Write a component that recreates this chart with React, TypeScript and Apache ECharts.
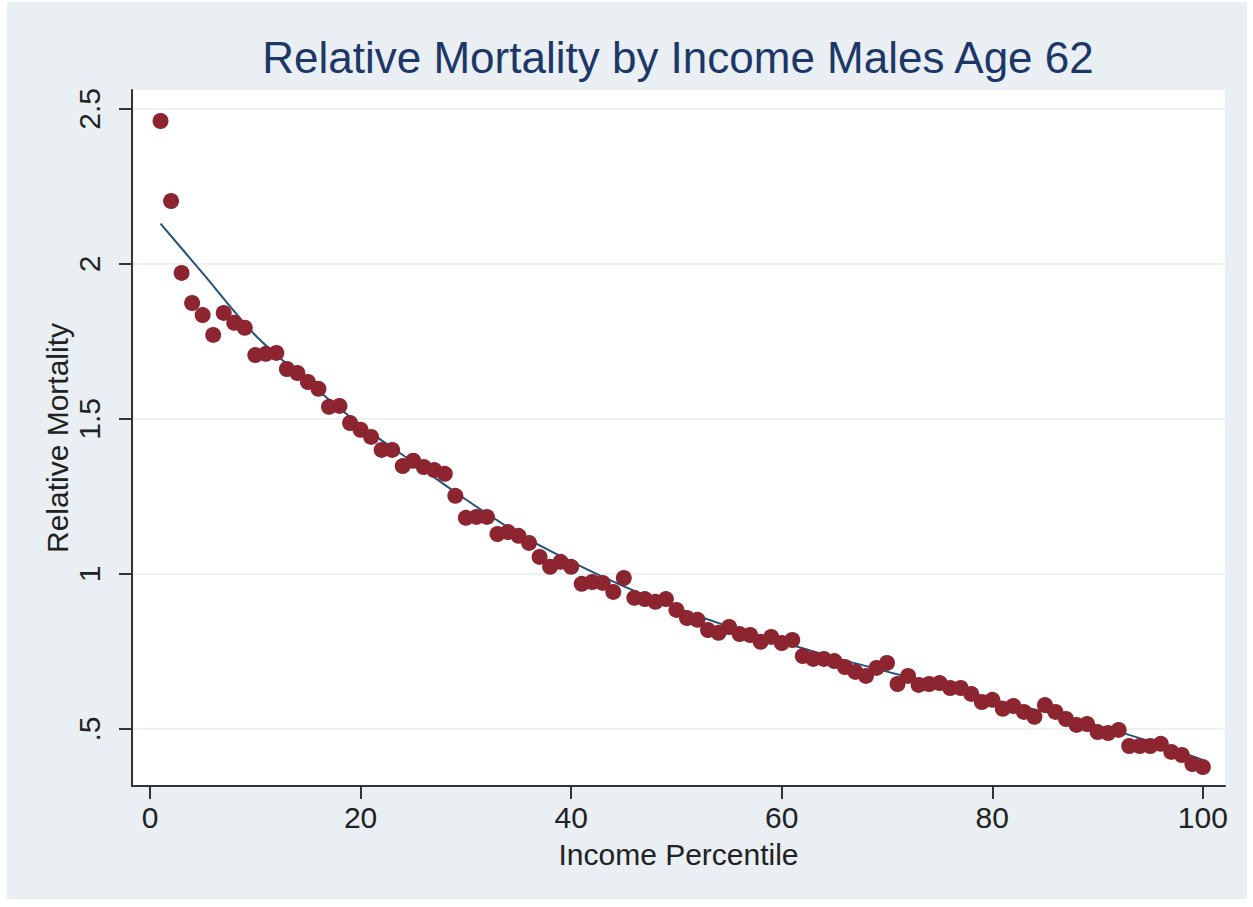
import React, { useEffect, useRef } from "react";
import * as echarts from "echarts";

const percentiles: number[] = Array.from({ length: 100 }, (_, i) => i + 1);
const relativeMortality: number[] = [
  2.461, 2.203, 1.971, 1.874, 1.835, 1.771, 1.842, 1.81, 1.794, 1.706,
  1.71, 1.713, 1.661, 1.648, 1.619, 1.597, 1.539, 1.542, 1.487, 1.465,
  1.442, 1.4, 1.4, 1.348, 1.365, 1.345, 1.335, 1.323, 1.252, 1.181,
  1.184, 1.184, 1.129, 1.135, 1.123, 1.1, 1.055, 1.023, 1.039, 1.023,
  0.968, 0.974, 0.971, 0.942, 0.987, 0.923, 0.919, 0.91, 0.919, 0.884,
  0.858, 0.852, 0.819, 0.81, 0.829, 0.806, 0.803, 0.781, 0.797, 0.777,
  0.787, 0.735, 0.726, 0.726, 0.719, 0.7, 0.684, 0.671, 0.697, 0.713,
  0.645, 0.671, 0.642, 0.645, 0.648, 0.632, 0.632, 0.613, 0.587, 0.594,
  0.565, 0.574, 0.555, 0.539, 0.577, 0.555, 0.532, 0.513, 0.516, 0.49,
  0.487, 0.497, 0.445, 0.445, 0.445, 0.452, 0.426, 0.416, 0.387, 0.377,
];
const fitX: number[] = [1, 5, 10, 15, 20, 25, 30, 35, 40, 45, 50, 55, 60, 65, 70, 75, 80, 85, 90, 95, 100];
const fitY: number[] = [2.13, 1.97, 1.77, 1.62, 1.48, 1.36, 1.24, 1.13, 1.04, 0.96, 0.89, 0.83, 0.78, 0.73, 0.685, 0.64, 0.595, 0.555, 0.51, 0.46, 0.4];
const xTicks: number[] = [0, 20, 40, 60, 80, 100];
const yTicks: number[] = [0.5, 1, 1.5, 2, 2.5];

const titleText = "Relative Mortality by Income Males Age 62";
const xTitle = "Income Percentile";
const yTitle = "Relative Mortality";

const FONT = "'Liberation Sans', Arial, Helvetica, sans-serif";

export default function App() {
  const ref = useRef<HTMLDivElement>(null);
  useEffect(() => {
    if (!ref.current) return;
    const chart = echarts.init(ref.current, undefined, { renderer: "svg" });
    chart.setOption({
      animation: false,
      backgroundColor: "#e9eff2",
      textStyle: { fontFamily: FONT },
      graphic: [
        {
          type: "text",
          x: 671,
          y: 55,
          style: {
            text: titleText,
            fill: "#1c3768",
            font: `44px ${FONT}`,
            textAlign: "center",
            textVerticalAlign: "middle",
          },
        },
      ],
      grid: {
        left: 125,
        top: 88,
        right: 22,
        bottom: 113,
        show: true,
        backgroundColor: "#ffffff",
        borderWidth: 0,
      },
      xAxis: {
        type: "value",
        min: -1.71,
        max: 102.1,
        name: xTitle,
        nameLocation: "middle",
        nameGap: 53,
        nameTextStyle: { fontSize: 30, color: "#222", fontFamily: FONT },
        axisLine: { show: true, onZero: false, lineStyle: { color: "#333", width: 2 } },
        axisTick: { show: true, length: 13, customValues: xTicks, lineStyle: { color: "#333", width: 2 } },
        axisLabel: { customValues: xTicks, fontSize: 30, color: "#222", margin: 16, fontFamily: FONT },
        splitLine: { show: false },
      },
      yAxis: {
        type: "value",
        min: 0.316,
        max: 2.561,
        name: yTitle,
        nameLocation: "middle",
        nameGap: 60,
        nameMoveOverlap: false,
        nameTextStyle: { fontSize: 30, color: "#222", fontFamily: FONT },
        axisLine: { show: true, onZero: false, lineStyle: { color: "#333", width: 2 } },
        axisTick: { show: true, length: 13, customValues: yTicks, lineStyle: { color: "#333", width: 2 } },
        axisLabel: {
          customValues: yTicks,
          rotate: 90,
          fontSize: 30,
          color: "#222",
          margin: 28,
          fontFamily: FONT,
          formatter: (v: number) => String(v).replace(/^0\./, "."),
        },
        splitLine: { show: true, lineStyle: { color: "#e6edf1", width: 1.5 } },
      },
      series: [
        {
          type: "line",
          data: fitX.map((x, i) => [x, fitY[i]]),
          showSymbol: false,
          smooth: 0.3,
          lineStyle: { color: "#24527a", width: 2 },
          z: 1,
        },
        {
          type: "scatter",
          data: percentiles.map((x, i) => [x, relativeMortality[i]]),
          symbol: "circle",
          symbolSize: 16,
          itemStyle: { color: "#8c2530", opacity: 1 },
          z: 2,
        },
      ],
    });
    return () => chart.dispose();
  }, []);
  return (
    <div style={{ position: "fixed", left: 0, top: 0, width: 1253, height: 907, background: "#ffffff" }}>
      <div ref={ref} style={{ position: "absolute", left: 7, top: 2, width: 1240, height: 897 }} />
    </div>
  );
}
